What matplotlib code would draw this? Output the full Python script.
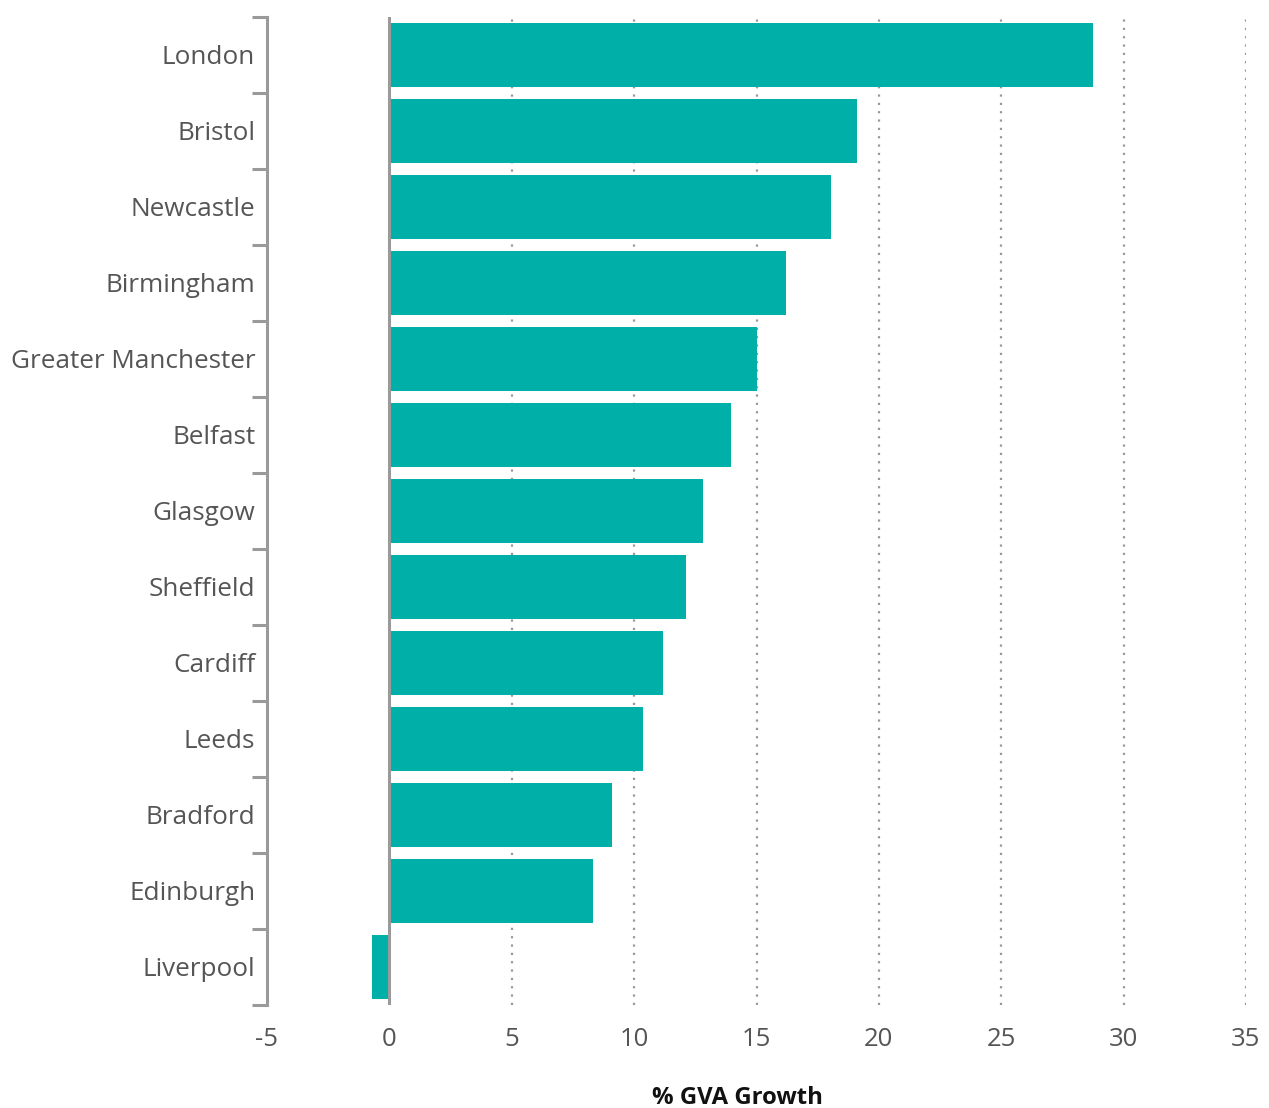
import matplotlib
matplotlib.use("Agg")
import matplotlib.pyplot as plt
import numpy as np

cities = ["London", "Bristol", "Newcastle", "Birmingham", "Greater Manchester",
          "Belfast", "Glasgow", "Sheffield", "Cardiff", "Leeds", "Bradford",
          "Edinburgh", "Liverpool"]
growth = [28.75, 19.1, 18.05, 16.2, 15.0, 13.95, 12.8, 12.1, 11.2, 10.35, 9.08, 8.34, -0.7]
xticks = [-5, 0, 5, 10, 15, 20, 25, 30, 35]

plt.rcParams['font.family'] = ['Open Sans', 'DejaVu Sans']

fig = plt.figure(figsize=(12.69, 11.08), dpi=100)
W, H = 1269, 1108
ax = fig.add_axes([267 / W, 1 - 1005 / H, (1246 - 267) / W, (1005 - 17) / H])

n = len(cities)
y = np.arange(n)
ax.barh(y, growth, height=0.83, color="#00B0A8", zorder=3)
ax.set_ylim(n - 0.5, -0.5)
ax.set_xlim(-5, 35)

for xv in xticks:
    if xv > 0:
        ax.axvline(xv, color="#999999", linestyle=(0, (1, 2.75)), linewidth=1.6, zorder=1)
ax.axvline(0, color="#9a9a9a", linewidth=2.2, zorder=4)

for s in ["top", "right", "bottom"]:
    ax.spines[s].set_visible(False)
ax.spines["left"].set_color("#9a9a9a")
ax.spines["left"].set_linewidth(2.2)

ax.set_yticks(y)
ax.set_yticklabels(cities)
ax.set_yticks(np.arange(n + 1) - 0.5, minor=True)
ax.tick_params(axis="y", which="major", length=0, pad=8.5, labelsize=18.8, labelcolor="#555555")
ax.tick_params(axis="y", which="minor", length=11, width=2.2, color="#9a9a9a")

ax.set_xticks(xticks)
ax.set_xticklabels([str(v) for v in xticks])
ax.tick_params(axis="x", length=0, pad=16, labelsize=18.5, labelcolor="#555555")

fig.text(737 / W, 1 - 1098 / H, "% GVA Growth", ha="center", va="center",
         fontsize=17.2, fontweight="bold", color="#111111")

fig.savefig("out.png", dpi=100)
